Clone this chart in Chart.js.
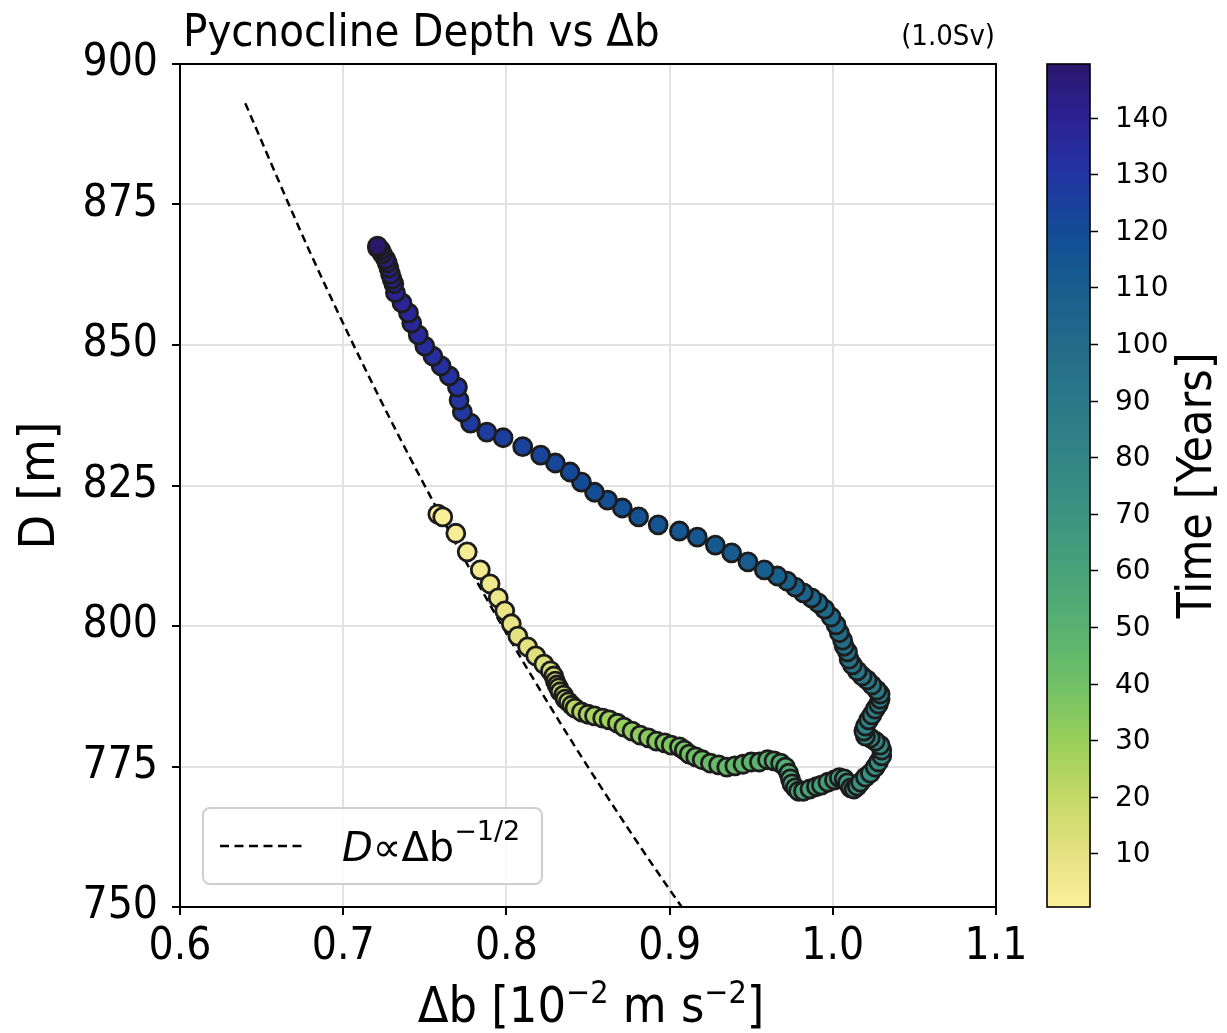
<!DOCTYPE html>
<html>
<head>
<meta charset="utf-8">
<script src="https://cdn.jsdelivr.net/npm/chart.js@4.4.0/dist/chart.umd.min.js"></script>
<style>
  html, body { margin: 0; padding: 0; background: #fff; }
</style>
</head>
<body>
<canvas id="pycno" width="1227" height="1033"></canvas>
<script>
// one point per model year, year = index + 0.5
const deltaB = [
  0.758, 0.761, 0.769, 0.776, 0.784, 0.790, 0.795, 0.799, 0.803, 0.807,
  0.813, 0.818, 0.823, 0.827, 0.829, 0.830, 0.831, 0.832, 0.833, 0.835,
  0.836, 0.838, 0.840, 0.842, 0.846, 0.850, 0.854, 0.859, 0.863, 0.868,
  0.872, 0.877, 0.882, 0.887, 0.892, 0.897, 0.901, 0.906, 0.909, 0.912,
  0.916, 0.920, 0.925, 0.930, 0.935, 0.940, 0.945, 0.950, 0.955, 0.960,
  0.964, 0.968, 0.971, 0.973, 0.974, 0.975, 0.977, 0.979, 0.982, 0.986,
  0.990, 0.993, 0.997, 1.001, 1.004, 1.007, 1.009, 1.011, 1.013, 1.015,
  1.017, 1.020, 1.023, 1.026, 1.028, 1.030, 1.030, 1.029, 1.026, 1.023,
  1.020, 1.019, 1.020, 1.022, 1.024, 1.026, 1.028, 1.029, 1.029, 1.027,
  1.024, 1.021, 1.018, 1.015, 1.012, 1.010, 1.009, 1.007, 1.006, 1.004,
  1.002, 0.999, 0.995, 0.991, 0.987, 0.982, 0.977, 0.972, 0.966, 0.958,
  0.948, 0.938, 0.928, 0.917, 0.906, 0.893, 0.881, 0.871, 0.862, 0.854,
  0.846, 0.839, 0.830, 0.821, 0.810, 0.798, 0.788, 0.778, 0.773, 0.771,
  0.770, 0.765, 0.760, 0.755, 0.750, 0.746, 0.742, 0.740, 0.736, 0.732,
  0.731, 0.730, 0.729, 0.728, 0.727, 0.726, 0.724, 0.723, 0.721, 0.721
];
const depth = [
  819.9, 819.4, 816.5, 813.2, 810.0, 807.5, 805.0, 802.7, 800.4, 798.2,
  796.3, 794.7, 793.2, 792.0, 791.1, 790.2, 789.5, 789.0, 788.3, 787.7,
  787.0, 786.5, 785.9, 785.4, 784.7, 784.3, 784.0, 783.6, 783.3, 782.7,
  782.0, 781.3, 780.6, 780.1, 779.5, 779.2, 778.8, 778.5, 777.9, 777.2,
  776.7, 776.2, 775.6, 775.3, 774.9, 775.1, 775.4, 775.8, 775.8, 776.2,
  776.0, 775.6, 774.9, 773.8, 772.8, 771.9, 771.2, 770.6, 770.6, 771.0,
  771.4, 771.7, 772.2, 772.6, 773.0, 772.8, 772.1, 771.2, 771.0, 771.5,
  772.2, 773.1, 773.8, 774.9, 775.8, 776.9, 777.9, 778.8, 779.5, 780.1,
  780.4, 781.3, 782.2, 783.3, 784.2, 785.2, 786.1, 787.0, 787.9, 788.6,
  789.5, 790.4, 791.1, 792.0, 793.1, 794.1, 795.4, 796.4, 797.5, 798.8,
  800.2, 801.6, 803.0, 804.1, 805.0, 805.9, 806.9, 808.0, 808.9, 810.0,
  811.4, 813.0, 814.4, 815.8, 816.9, 818.0, 819.4, 821.0, 822.4, 823.8,
  825.6, 827.4, 829.0, 830.4, 831.9, 833.5, 834.5, 836.1, 838.1, 840.2,
  842.5, 844.5, 846.3, 848.0, 849.8, 851.8, 853.9, 855.7, 857.5, 859.3,
  860.9, 861.7, 862.6, 863.7, 864.6, 865.3, 866.2, 866.9, 867.3, 867.6
];

// dashed scaling curve D ~ db^-1/2
const fitDeltaB = [0.640, 0.680, 0.720, 0.760, 0.800, 0.840, 0.880, 0.910];
const fitDepth  = [893.0, 866.3, 841.9, 819.5, 798.7, 779.5, 761.6, 748.9];

const xTicks = [0.6, 0.7, 0.8, 0.9, 1.0, 1.1];
const yTicks = [750, 775, 800, 825, 850, 875, 900];
const timeTicks = [10, 20, 30, 40, 50, 60, 70, 80, 90, 100, 110, 120, 130, 140];
const timeRange = [0.5, 149.5];

// cmocean haline, reversed (yellow = early, indigo = late)
const halineStops = [
  [0.000, '#fdef9a'], [0.064, '#e4e181'], [0.131, '#c4d966'], [0.198, '#99cf5b'],
  [0.265, '#70c066'], [0.332, '#58b171'], [0.399, '#48a27a'], [0.466, '#3c9380'],
  [0.534, '#328585'], [0.601, '#2a7888'], [0.668, '#226b89'], [0.735, '#175d8d'],
  [0.802, '#134c96'], [0.869, '#2334a2'], [0.936, '#2c2194'], [1.000, '#2a186c']
];

const hex = c => [1, 3, 5].map(i => parseInt(c.slice(i, i + 2), 16));
const timeColor = t => {
  const f = Math.min(1, Math.max(0, (t - timeRange[0]) / (timeRange[1] - timeRange[0])));
  for (let i = 1; i < halineStops.length; i++) {
    const [f1, c1] = halineStops[i];
    if (f <= f1) {
      const [f0, c0] = halineStops[i - 1];
      const k = (f - f0) / (f1 - f0);
      const a = hex(c0), b = hex(c1);
      return 'rgb(' + a.map((v, j) => Math.round(v + (b[j] - v) * k)).join(',') + ')';
    }
  }
  return halineStops[halineStops.length - 1][1];
};

const COND = "'DejaVu Sans Condensed', 'DejaVu Sans', sans-serif";
const WIDE = "'DejaVu Sans', sans-serif";

// draws a run of [text, font, dy] pieces starting at x
const drawRuns = (ctx, runs, x, y) => {
  runs.forEach(([txt, font, dy]) => {
    ctx.font = font;
    ctx.fillText(txt, x, y + (dy || 0));
    x += ctx.measureText(txt).width;
  });
};
const runsWidth = (ctx, runs) => runs.reduce((w, [txt, font]) => {
  ctx.font = font;
  return w + ctx.measureText(txt).width;
}, 0);

const decorations = {
  id: 'decorations',
  afterDraw(chart) {
    const { ctx, chartArea } = chart;
    const { left, right, top, bottom } = chartArea;
    ctx.save();

    // top frame line
    ctx.strokeStyle = '#000';
    ctx.lineWidth = 2;
    ctx.beginPath();
    ctx.moveTo(left - 1, top);
    ctx.lineTo(right + 1, top);
    ctx.stroke();

    // titles
    ctx.fillStyle = '#000';
    ctx.textBaseline = 'alphabetic';
    ctx.textAlign = 'left';
    ctx.font = '45px ' + COND;
    ctx.fillText('Pycnocline Depth vs \u0394b', left + 3, 46);
    ctx.textAlign = 'right';
    ctx.font = '29px ' + COND;
    ctx.fillText('(1.0Sv)', right - 1, 45);

    // y axis title
    ctx.save();
    ctx.translate(41, (top + bottom) / 2);
    ctx.rotate(-Math.PI / 2);
    ctx.textAlign = 'center';
    ctx.textBaseline = 'middle';
    ctx.font = '50px ' + COND;
    ctx.fillText('D [m]', 0, 0);
    ctx.restore();

    // x axis title with superscripts
    const big = '50px ' + COND, sup = '32px ' + COND;
    const xRuns = [['\u0394b [10', big], ['\u22122', sup, -19], [' m s', big], ['\u22122', sup, -19], [']', big]];
    ctx.textAlign = 'left';
    const xw = runsWidth(ctx, xRuns);
    drawRuns(ctx, xRuns, (left + right) / 2 - xw / 2 + 3, 1022);

    // colorbar, placed on the time scale
    const s = chart.scales.time;
    const cTop = s.getPixelForValue(timeRange[1]);
    const cBot = s.getPixelForValue(timeRange[0]);
    const cx = right + 51, cw = 43;
    const g = ctx.createLinearGradient(0, cBot, 0, cTop);
    halineStops.forEach(([f, c]) => g.addColorStop(f, c));
    ctx.fillStyle = g;
    ctx.fillRect(cx, cTop, cw, cBot - cTop);
    ctx.strokeStyle = '#000';
    ctx.lineWidth = 1.6;
    ctx.strokeRect(cx, cTop, cw, cBot - cTop);
    ctx.beginPath();
    ctx.fillStyle = '#000';
    ctx.font = '28px ' + WIDE;
    ctx.textAlign = 'left';
    ctx.textBaseline = 'middle';
    timeTicks.forEach(t => {
      const ty = Math.round(s.getPixelForValue(t)) + 0.5;
      ctx.moveTo(cx + cw, ty);
      ctx.lineTo(cx + cw + 8, ty);
      ctx.fillText(String(t), cx + cw + 25, ty + 1);
    });
    ctx.stroke();

    ctx.save();
    ctx.translate(1199, (cTop + cBot) / 2);
    ctx.rotate(-Math.PI / 2);
    ctx.textAlign = 'center';
    ctx.textBaseline = 'middle';
    ctx.font = '48px ' + COND;
    ctx.fillText('Time [Years]', 0, 0);
    ctx.restore();

    // legend box
    const lx = left + 23, ly = bottom - 99, lw = 339, lh = 76;
    ctx.beginPath();
    ctx.roundRect(lx, ly, lw, lh, 7);
    ctx.fillStyle = 'rgba(255,255,255,0.85)';
    ctx.fill();
    ctx.strokeStyle = '#cfcfcf';
    ctx.lineWidth = 2;
    ctx.stroke();
    ctx.beginPath();
    ctx.setLineDash([9, 5.5]);
    ctx.strokeStyle = '#000';
    ctx.lineWidth = 2.4;
    ctx.moveTo(lx + 17, ly + 38);
    ctx.lineTo(lx + 103, ly + 38);
    ctx.stroke();
    ctx.setLineDash([]);
    ctx.fillStyle = '#000';
    ctx.textAlign = 'left';
    ctx.textBaseline = 'alphabetic';
    drawRuns(ctx, [
      ['D', 'italic 40px ' + WIDE],
      ['\u221D\u0394b', '40px ' + WIDE],
      ['\u22121/2', '27px ' + WIDE, -21]
    ], lx + 139, ly + 53);

    ctx.restore();
  }
};

const points = deltaB.map((x, i) => ({ x, y: depth[i] }));
const fitLine = fitDeltaB.map((x, i) => ({ x, y: fitDepth[i] }));

const gridStyle = {
  color: '#e2e2e2',
  lineWidth: 2,
  tickColor: '#000',
  tickLength: 8,
  tickWidth: 2
};

new Chart(document.getElementById('pycno'), {
  type: 'scatter',
  data: {
    datasets: [
      {
        label: 'D \u221D \u0394b^-1/2',
        type: 'line',
        data: fitLine,
        borderColor: '#000',
        borderWidth: 2.5,
        borderDash: [8, 5],
        pointRadius: 0,
        fill: false,
        cubicInterpolationMode: 'monotone',
        order: 2
      },
      {
        label: 'Pycnocline depth',
        data: points,
        pointRadius: 9,
        pointHoverRadius: 9,
        borderWidth: 2.8,
        borderColor: '#1c1c1c',
        backgroundColor: ctx => timeColor(ctx.dataIndex + 0.5),
        order: 1
      }
    ]
  },
  options: {
    responsive: false,
    animation: false,
    events: [],
    layout: { padding: { top: 64 } },
    plugins: {
      legend: { display: false },
      title: { display: false },
      tooltip: { enabled: false }
    },
    scales: {
      x: {
        type: 'linear',
        min: 0.6,
        max: 1.1,
        afterBuildTicks: s => { s.ticks = xTicks.map(v => ({ value: v })); },
        afterFit: s => { s.height = 126; },
        grid: gridStyle,
        border: { color: '#000', width: 2 },
        ticks: {
          color: '#000',
          padding: 6,
          font: { family: COND, size: 44 },
          callback: v => v.toFixed(1)
        }
      },
      y: {
        type: 'linear',
        min: 750,
        max: 900,
        afterBuildTicks: s => { s.ticks = yTicks.map(v => ({ value: v })); },
        afterFit: s => { s.width = 180; },
        grid: gridStyle,
        border: { color: '#000', width: 2 },
        ticks: {
          color: '#000',
          padding: 14,
          font: { family: COND, size: 44 },
          callback: v => String(v)
        }
      },
      time: {
        type: 'linear',
        position: 'right',
        min: timeRange[0],
        max: timeRange[1],
        afterBuildTicks: s => { s.ticks = timeTicks.map(v => ({ value: v })); },
        afterFit: s => { s.width = 231; },
        grid: { display: false, drawTicks: false },
        border: { display: true, color: '#000', width: 2 },
        ticks: { display: false }
      }
    }
  },
  plugins: [decorations]
});
</script>
</body>
</html>
